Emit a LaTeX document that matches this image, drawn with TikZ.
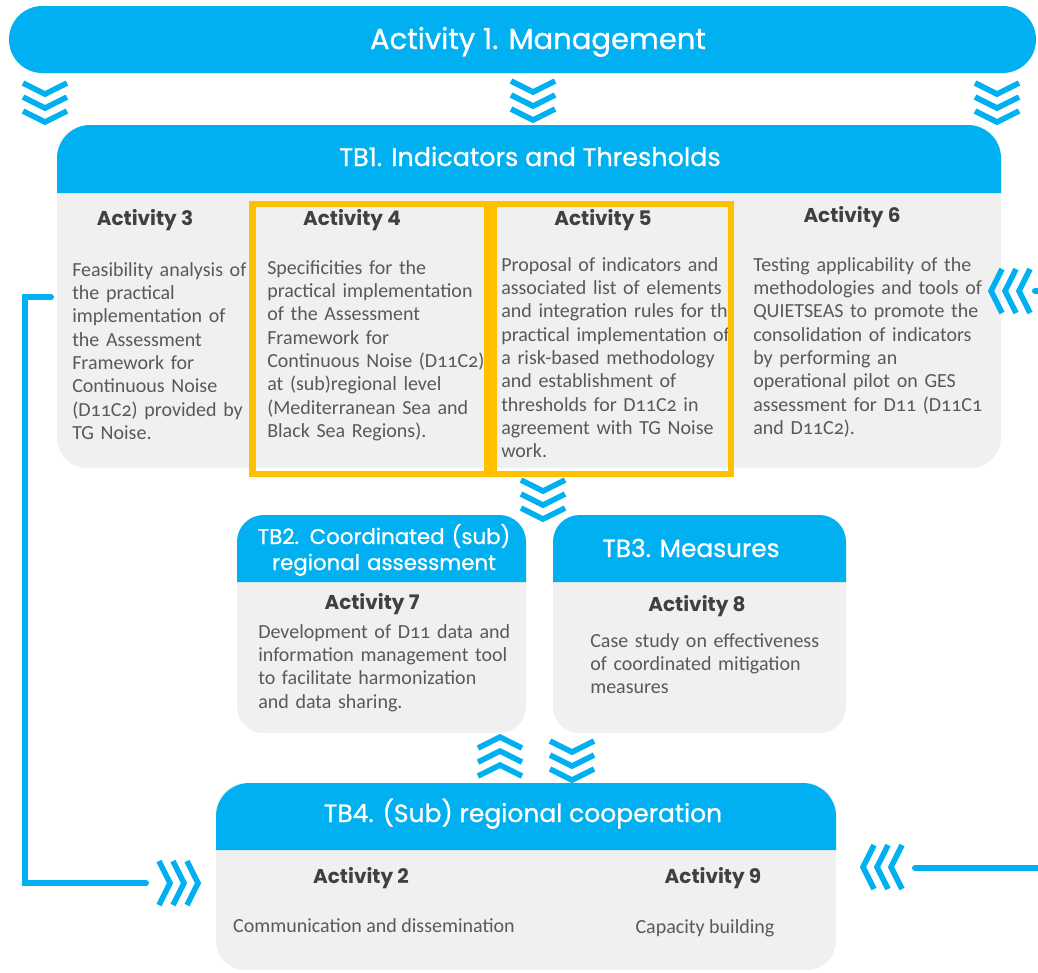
\documentclass[tikz,border=0pt]{standalone}
\usepackage{fontspec}
\setmainfont{Carlito}[Numbers=OldStyle]
\newfontfamily\hfont{Poppins}
\newfontfamily\hfontm{Poppins}[FakeBold=0.9]
\definecolor{qblue}{HTML}{00B0F0}
\definecolor{qgray}{HTML}{F0F0F0}
\definecolor{qyellow}{HTML}{FFC000}
\definecolor{qtitle}{HTML}{404040}
\definecolor{qtext}{HTML}{595959}
\tikzset{
  hdr/.style={text=white, inner sep=0pt, anchor=base, font=\hfontm\fontsize{#1}{#1}\selectfont},
  hdrtwo/.style={text=white, inner sep=0pt, anchor=base, align=center, text width=250pt, font=\hfontm\fontsize{16}{19.5}\selectfont},
  acttitle/.style={text=qtitle, inner sep=0pt, anchor=base, font=\hfont\bfseries\fontsize{15}{18}\selectfont},
  body/.style={text=qtext, inner sep=0pt, anchor=base west, align=left, text width=230pt, font=\fontsize{15}{17.5}\selectfont},
  bodyc/.style={text=qtext, inner sep=0pt, anchor=base, font=\fontsize{15}{17.5}\selectfont},
  qline/.style={draw=qblue, line width=4.5pt, line cap=round},
  ybox/.style={draw=qyellow, line width=5.2pt},
  chev/.pic={\draw[qblue, line width=4.2pt]
      (-22,-18) -- (0,-7) -- (22,-18)
      (-22,-4) -- (0,7) -- (22,-4)
      (-22,10) -- (0,21) -- (22,10);}
}
\begin{document}
\begin{tikzpicture}[x=0.75pt,y=-0.75pt]
\useasboundingbox (0,0) rectangle (1038,972);
\clip (0,0) rectangle (1038,972);
\fill[white] (0,0) rectangle (1038,972);

% Activity 1 banner
\fill[qblue, rounded corners=25pt] (9,6) rectangle (1036,73);
\node[hdr=21.75] (a1) at (538,49) {Activity 1. Management};

% TB1
\fill[qgray, rounded corners=23pt] (57,125) rectangle (1001,468);
\fill[qblue] (57,193) [rounded corners=25pt] -- (57,125) -- (1001,125) [sharp corners] -- (1001,193) -- cycle;
\node[hdr=19.1] (tb1) at (530,166) {TB1. Indicators and Thresholds};

\node[acttitle] (a3t) at (145,225) {Activity 3};
\node[acttitle] (a4t) at (352,225) {Activity 4};
\node[acttitle] (a5t) at (603,225) {Activity 5};
\node[acttitle] (a6t) at (852,222) {Activity 6};

\node[body] (a3) at (72,276) {Feasibility analysis of\\the practical\\implementation of\\the Assessment\\Framework for\\Continuous Noise\\(D11C2) provided by\\TG Noise.};
\node[body] (a4) at (267,274) {Specificities for the\\practical implementation\\of the Assessment\\Framework for\\Continuous Noise (D11C2)\\at (sub)regional level\\(Mediterranean Sea and\\Black Sea Regions).};
\begin{scope}
\clip (490,201) rectangle (727,478);
\node[body] (a5) at (501,271) {Proposal of indicators and\\associated list of elements\\and integration rules for the\\practical implementation of\\a risk-based methodology\\and establishment of\\thresholds for D11C2 in\\agreement with TG Noise\\work.};
\end{scope}
\node[body] (a6) at (753,271) {Testing applicability of the\\methodologies and tools of\\QUIETSEAS to promote the\\consolidation of indicators\\by performing an\\operational pilot on GES\\assessment for D11 (D11C1\\and D11C2).};

\draw[ybox] (252.5,204) rectangle (487.5,474);
\draw[ybox] (494,204) rectangle (731,474);

% TB2
\fill[qgray, rounded corners=20pt] (237,515) rectangle (526,733);
\fill[qblue] (237,582) [rounded corners=20pt] -- (237,515) -- (526,515) [sharp corners] -- (526,582) -- cycle;
\node[hdrtwo] (tb2) at (384,544) {TB2. Coordinated (sub)\\regional assessment};
\node[acttitle] (a7t) at (372,609) {Activity 7};
\node[body] (a7) at (258,638) {Development of D11 data and\\information management tool\\to facilitate harmonization\\and data sharing.};

% TB3
\fill[qgray, rounded corners=20pt] (553,515) rectangle (846,733);
\fill[qblue] (553,582) [rounded corners=20pt] -- (553,515) -- (846,515) [sharp corners] -- (846,582) -- cycle;
\node[hdr=18.6] (tb3) at (691,557) {TB3. Measures};
\node[acttitle] (a8t) at (697,611) {Activity 8};
\node[body] (a8) at (590,647) {Case study on effectiveness\\of coordinated mitigation\\measures};

% TB4
\fill[qgray, rounded corners=22pt] (216,783) rectangle (836,970);
\fill[qblue] (216,850) [rounded corners=25pt] -- (216,783) -- (836,783) [sharp corners] -- (836,850) -- cycle;
\node[hdr=18.75] (tb4) at (523,822) {TB4. (Sub) regional cooperation};
\node[acttitle] (a2t) at (361,883) {Activity 2};
\node[bodyc] (a2) at (374,932) {Communication and dissemination};
\node[acttitle] (a9t) at (713,883) {Activity 9};
\node[bodyc] (a9) at (705,933) {Capacity building};

% chevrons
\pic at (45,101) {chev};
\pic at (533,99) {chev};
\pic at (997,101) {chev};
\pic at (543,498) {chev};
\pic[rotate=180] at (500,758) {chev};
\pic at (572,759) {chev};
\pic[rotate=90] at (177,883) {chev};
\pic[rotate=-90] at (884,867) {chev};
\pic[rotate=-90] at (1012,291) {chev};

% connectors
\coordinate (lcTop) at (51,297);
\coordinate (lcBot) at (146,883);
\draw[qline] (lcTop) -- (25,297) -- (25,883) -- (lcBot);
\coordinate (rbEnd) at (915,868);
\coordinate (rbOut) at (1050,868);
\draw[qline] (rbOut) -- (rbEnd);
\coordinate (rtEnd) at (1035,291);
\coordinate (rtOut) at (1050,291);
\draw[qline] (rtOut) -- (rtEnd);
\end{tikzpicture}
\end{document}
